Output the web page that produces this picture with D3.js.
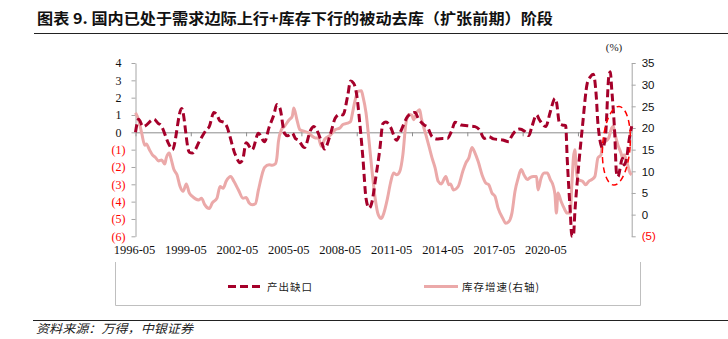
<!DOCTYPE html>
<html><head><meta charset="utf-8">
<script src="https://cdn.jsdelivr.net/npm/d3@7"></script>
<style>body{margin:0;background:#fff;} svg{display:block;}</style>
</head><body><svg id="c" width="728" height="339"></svg>
<script>
// ---- data ----
const gapDates = ["1996-05","1996-07","1996-10","1997-05","1997-08","1997-09","1998-03","1998-05","1998-11","1999-04","1999-06","1999-11","2000-03","2000-05","2000-08","2000-10","2000-12","2001-03","2001-04","2001-10","2002-01","2002-03","2002-05","2002-09","2003-01","2003-05","2003-08","2003-11","2004-01","2004-03","2004-06","2004-08","2004-11","2005-01","2005-03","2005-07","2005-11","2006-01","2006-04","2006-06","2006-08","2006-12","2007-03","2007-06","2007-08","2007-11","2008-01","2008-03","2008-05","2008-07","2008-09","2008-11","2009-01","2009-03","2009-05","2009-08","2009-10","2009-12","2010-03","2010-07","2010-10","2011-02","2011-05","2011-07","2011-09","2012-01","2012-03","2012-06","2012-09","2013-01","2013-04","2013-07","2013-09","2014-01","2014-05","2014-10","2015-01","2015-04","2015-07","2015-10","2016-04","2016-08","2016-09","2017-01","2017-03","2017-06","2017-09","2017-11","2018-02","2018-04","2018-08","2018-11","2019-02","2019-03","2019-05","2019-07","2019-09","2019-10","2019-12","2020-01","2020-02","2020-03","2020-05","2020-08","2020-11","2021-01","2021-03","2021-05","2021-06","2021-09","2021-11","2022-01","2022-02","2022-03","2022-05","2022-06","2022-07","2022-10","2022-11","2023-01","2023-02","2023-04"];
const gapValues = [0,0.75,0.33,0.75,0.5,0.45,-0.73,-1.0,1.38,-1.15,-1.2,-0.44,0.13,0.33,1.15,1.0,0.65,0.56,0.42,-1.3,-1.75,-1.5,-0.6,-1.0,-0.05,-0.55,0.3,1.0,1.6,1.4,-0.06,-0.2,-0.05,-0.35,-0.45,-0.88,0.13,0.33,-0.06,-0.54,-0.96,-0.06,0.81,1.04,1.0,2.06,2.96,2.83,2.15,0.52,-1.5,-3.8,-4.38,-4.0,-2.85,-1.0,0.5,0.6,0.3,-0.46,0.13,0.9,1.1,1.15,0.81,0.42,0.3,-0.25,-0.38,-0.35,-0.35,0.13,0.58,0.42,0.38,0.33,0.13,-0.35,-0.25,-0.38,-0.44,-0.54,-0.35,0.13,0.19,0.08,-0.19,0.33,1.0,0.71,0.33,1.19,1.96,1.77,0.52,0.42,0.38,-1.5,-4.6,-6.0,-6.0,-4.6,-2.4,0.42,2.83,3.2,3.35,2.0,0.5,-0.9,-0.1,3.2,3.5,2.5,-0.15,-2.27,-2.56,-1.5,-1.88,-1.3,-0.6,0.35];

const invDates = ["1996-05","1996-07","1996-09","1996-11","1996-12","1997-02","1997-04","1997-06","1997-08","1997-10","1997-12","1998-01","1998-03","1998-04","1998-06","1998-08","1998-10","1998-12","1999-02","1999-04","1999-06","1999-10","1999-12","2000-02","2000-05","2000-07","2000-10","2000-12","2001-02","2001-04","2001-07","2001-09","2001-12","2002-03","2002-05","2002-07","2002-09","2002-11","2003-01","2003-02","2003-04","2003-05","2003-08","2003-10","2003-12","2004-01","2004-02","2004-04","2004-06","2004-09","2004-11","2004-12","2005-02","2005-04","2005-07","2005-10","2005-12","2006-02","2006-04","2006-06","2006-08","2006-12","2007-03","2007-06","2007-08","2007-11","2008-01","2008-02","2008-04","2008-06","2008-08","2008-09","2008-11","2009-01","2009-03","2009-05","2009-07","2009-09","2009-10","2010-01","2010-03","2010-05","2010-07","2010-09","2010-11","2011-01","2011-03","2011-05","2011-06","2011-08","2011-10","2011-11","2012-02","2012-04","2012-06","2012-08","2012-10","2012-12","2013-03","2013-05","2013-06","2013-08","2013-11","2014-02","2014-04","2014-06","2014-08","2014-10","2014-12","2015-03","2015-05","2015-07","2015-09","2015-11","2016-01","2016-04","2016-06","2016-08","2016-10","2016-12","2017-02","2017-04","2017-06","2017-08","2017-10","2017-12","2018-02","2018-03","2018-05","2018-07","2018-09","2018-11","2019-01","2019-02","2019-03","2019-04","2019-06","2019-08","2019-10","2019-12","2020-01","2020-02","2020-03","2020-04","2020-05","2020-08","2020-10","2020-12","2021-02","2021-04","2021-06","2021-08","2021-09","2021-11","2022-01","2022-03","2022-04","2022-05","2022-07","2022-09","2022-10","2022-11","2023-01","2023-03","2023-04"];
const invValues = [23.5,21.9,18.8,16.0,16.3,15.0,13.8,13.2,12.4,12.6,11.7,13.1,14.2,13.1,10.4,9.2,6.5,5.4,7.1,5.0,4.2,3.4,3.8,2.3,1.4,2.7,3.8,6.5,6.1,7.7,8.8,7.7,5.7,3.8,3.95,2.7,2.3,2.5,5.7,7.3,10.0,10.9,11.5,11.4,11.7,13.1,16.9,19.6,20.4,21.9,22.7,24.6,21.9,19.6,19.2,18.8,18.1,17.7,17.7,15.8,17.3,18.4,19.6,20.0,20.8,21.1,21.5,23.1,26.5,28.5,28.6,27.3,23.5,16.9,10.0,3.8,0.0,-0.9,-0.3,3.8,7.3,9.6,9.2,10.0,13.8,21.1,23.1,22.9,21.9,23.5,24.2,22.3,18.4,15.8,13.1,10.8,7.7,7.1,8.8,6.9,7.1,5.7,6.5,10.0,11.9,13.1,15.5,14.2,12.3,8.8,7.3,6.9,5.0,4.2,1.5,-0.8,-2.0,-1.6,0.35,5.4,8.4,10.4,9.1,8.1,8.6,8.8,8.8,5.7,8.4,9.6,9.6,8.1,6.5,4.6,0.35,5.0,3.1,1.5,0.35,0.35,6.9,13.1,15.0,10.0,8.1,7.7,6.9,7.7,8.1,8.8,13.1,13.8,16.5,16.9,17.7,20.0,20.4,18.8,16.1,14.2,13.1,13.8,11.9,9.6,9.2];

const xTickLabels = ["1996-05","1999-05","2002-05","2005-05","2008-05","2011-05","2014-05","2017-05","2020-05"];
const leftTicks = [4,3,2,1,0,-1,-2,-3,-4,-5,-6];
const rightTicks = [35,30,25,20,15,10,5,0,-5];
const seriesNames = ["产出缺口","库存增速(右轴)"];
const titleText = "图表 9. 国内已处于需求边际上行+库存下行的被动去库（扩张前期）阶段";
const sourceText = "资料来源：万得，中银证券";
const highlightRange = ["2021-09","2023-03"]; // dates spanned by the ellipse
const highlightValues = [1.5,-3.05];           // left-axis values spanned by the ellipse

// ---- drawing ----
const parse = d3.timeParse("%Y-%m");
const svg = d3.select("#c");
const DARK = "#A5002A", PINK = "#EBA9A9", RED = "#FF0000";
const serif = "'Liberation Serif','Times New Roman',serif";
const sans = "'Liberation Sans',Arial,sans-serif";
const cjk = "'Noto Sans CJK SC','Noto Sans',sans-serif";

const x = d3.scaleTime().domain([parse("1996-05"), parse("2023-04")]).range([135.5, 631.7]);
const yL = d3.scaleLinear().domain([-6,4]).range([236.3, 63]);
const yR = d3.scaleLinear().domain([-5,35]).range([236.3, 63]);
const xLab = d3.scalePoint().domain(xTickLabels).range([134, 545.3]);

// title
svg.append("text").attr("x",37).attr("y",24).attr("font-family",cjk).attr("font-weight","bold")
  .attr("font-size",15).attr("fill","#111").attr("textLength",516).attr("lengthAdjust","spacingAndGlyphs").text(titleText);
svg.append("line").attr("x1",34).attr("x2",728).attr("y1",33.5).attr("y2",33.5).attr("stroke","#222").attr("stroke-width",1);

// (%) unit
svg.append("text").attr("x",614).attr("y",51).attr("text-anchor","middle").attr("font-family",serif)
  .attr("font-size",11).attr("fill","#222").text("(%)");

// zero line with date ticks
const fmtNeg = v => v < 0 ? "(" + Math.abs(v) + ")" : String(v);
const gx = svg.append("g").attr("transform",`translate(0,${yL(0)})`)
  .call(d3.axisBottom(x).tickValues(xTickLabels.map(parse)).tickSize(4).tickSizeOuter(0).tickFormat(""));
gx.select(".domain").attr("stroke","#8C8C8C");
gx.selectAll(".tick line").attr("stroke","#8C8C8C");

// left axis
const gl = svg.append("g").attr("transform","translate(135.5,0)")
  .call(d3.axisLeft(yL).tickValues(leftTicks).tickSize(4).tickSizeOuter(0).tickPadding(6).tickFormat(fmtNeg));
gl.select(".domain").attr("stroke","#A6A6A6");
gl.selectAll(".tick line").attr("stroke","#A6A6A6");
gl.selectAll(".tick text").attr("font-family",serif).attr("font-size",12)
  .attr("fill", d => d < 0 ? RED : "#111")
  .attr("x", d => d < 0 ? -10 : -14);

// right axis
const gr = svg.append("g").attr("transform","translate(631.7,0)")
  .call(d3.axisRight(yR).tickValues(rightTicks).tickSize(4).tickSizeOuter(0).tickPadding(6).tickFormat(fmtNeg));
gr.select(".domain").attr("stroke","#A6A6A6");
gr.selectAll(".tick line").attr("stroke","#A6A6A6");
gr.selectAll(".tick text").attr("font-family",sans).attr("font-size",11.5)
  .attr("fill", d => d < 0 ? RED : "#111");

// bottom labels
const gb = svg.append("g").attr("transform","translate(0,236.3)")
  .call(d3.axisBottom(xLab).tickSize(0).tickPadding(9));
gb.select(".domain").remove();
gb.selectAll(".tick text").attr("font-family",serif).attr("font-size",12.5).attr("fill","#111");

// series
const gapData = gapDates.map((d,i)=>({d:parse(d), v:gapValues[i]}));
const invData = invDates.map((d,i)=>({d:parse(d), v:invValues[i]}));

svg.append("path").datum(invData)
  .attr("d", d3.line().x(p=>x(p.d)).y(p=>yR(p.v)).curve(d3.curveMonotoneX))
  .attr("fill","none").attr("stroke",PINK).attr("stroke-width",3).attr("stroke-linejoin","round");

svg.append("path").datum(gapData)
  .attr("d", d3.line().x(p=>x(p.d)).y(p=>yL(p.v)).curve(d3.curveMonotoneX))
  .attr("fill","none").attr("stroke",DARK).attr("stroke-width",3).attr("stroke-dasharray","8,4");

// highlight ellipse
const ex1 = x(parse(highlightRange[0])), ex2 = x(parse(highlightRange[1]));
const ey1 = yL(highlightValues[0]), ey2 = yL(highlightValues[1]);
svg.append("ellipse").attr("cx",(ex1+ex2)/2).attr("cy",(ey1+ey2)/2)
  .attr("rx",(ex2-ex1)/2).attr("ry",(ey2-ey1)/2)
  .attr("transform",`rotate(4,${(ex1+ex2)/2},${(ey1+ey2)/2})`)
  .attr("fill","none").attr("stroke",RED).attr("stroke-width",1.5).attr("stroke-dasharray","6,4");

// legend
const lg = svg.append("g");
lg.append("line").attr("x1",228).attr("x2",263).attr("y1",286.5).attr("y2",286.5)
  .attr("stroke",DARK).attr("stroke-width",3).attr("stroke-dasharray","8,4");
lg.append("text").attr("x",267).attr("y",290.5).attr("font-family",cjk).attr("font-size",10.5)
  .attr("letter-spacing",1).attr("fill","#222").text(seriesNames[0]);
lg.append("line").attr("x1",424).attr("x2",458).attr("y1",286.5).attr("y2",286.5)
  .attr("stroke",PINK).attr("stroke-width",3);
lg.append("text").attr("x",462).attr("y",290.5).attr("font-family",cjk).attr("font-size",10.5)
  .attr("letter-spacing",1).attr("fill","#222").text(seriesNames[1]);

// chart-area border (lower part)
svg.append("path").attr("d","M115.5,262V305.5H640.5V262").attr("fill","none").attr("stroke","#BFBFBF").attr("stroke-width",1);

// source
svg.append("line").attr("x1",33).attr("x2",728).attr("y1",320.5).attr("y2",320.5).attr("stroke","#222").attr("stroke-width",1);
svg.append("text").attr("x",36).attr("y",333).attr("font-family",cjk).attr("font-style","italic")
  .attr("font-size",12).attr("fill","#222").attr("textLength",157).attr("lengthAdjust","spacingAndGlyphs").text(sourceText);
</script></body></html>
